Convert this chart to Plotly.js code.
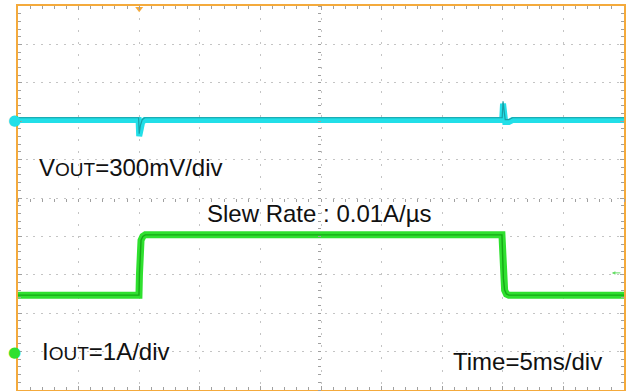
<!DOCTYPE html>
<html><head><meta charset="utf-8">
<script src="https://cdn.plot.ly/plotly-3.0.1.min.js"></script>
<style>html,body{margin:0;padding:0;background:#fff}#chart{width:634px;height:391px}</style>
</head><body><div id="chart"></div>
<script>
// ---- data (read from the scope capture) ----
const timeRange = [0, 50];                 // ms, 5 ms/div x 10 div
const time_vout = [0, 9.95, 10.0, 10.1, 10.25, 10.45, 39.95, 40.02, 40.1, 40.2, 40.5, 40.8, 50];
const vout_mV   = [0, 0, -125, -60, -15, 0, 0, 128, 60, -15, -15, 0, 0];   // deviation, mV
const time_iout = [0, 9.98, 10.02, 10.08, 10.15, 10.3, 10.5, 39.93, 39.98, 40.05, 40.15, 40.3, 40.5, 50];
const iout_A    = [1.47, 1.47, 2.0, 2.6, 2.9, 3.0, 3.04, 3.04, 2.5, 1.9, 1.6, 1.5, 1.47, 1.47];
const triggerTime = [10];
const triggerLevel_A = 2.05;
const labels = {
  vout: 'V<span style="font-size:19px">OUT</span>=300mV/div',
  iout: 'I<span style="font-size:19px">OUT</span>=1A/div',
  slew: 'Slew Rate : 0.01A/µs',
  time: 'Time=5ms/div'
};

// ---- channel scaling (div units on screen) ----
const VOUT_SCALE = 300, VOUT_OFFSET = 2.03;   // mV/div, div
const IOUT_SCALE = 1,   IOUT_OFFSET = -4;     // A/div, div
const voutDiv = vout_mV.map(v => VOUT_OFFSET + v / VOUT_SCALE);
const ioutDiv = iout_A.map(i => IOUT_OFFSET + i / IOUT_SCALE);

const ORANGE = '#f4aa3c', GRID = '#c4c4c4', TICK = '#a0a0a0';
const CYAN = '#22dfe8', GREEN = '#2fe02f';
const FONT = '"Liberation Sans", Arial, sans-serif';

const traces = [
  {x: time_vout, y: voutDiv, mode: 'lines', line: {color: CYAN, width: 6}, hoverinfo: 'skip'},
  {x: time_vout, y: voutDiv.map(v => v + 0.06), mode: 'lines', line: {color: '#1a9ea4', width: 1.2}, hoverinfo: 'skip'},
  {x: time_iout, y: ioutDiv, mode: 'lines', line: {color: GREEN, width: 7}, hoverinfo: 'skip'},
  {x: time_iout, y: ioutDiv, mode: 'lines', line: {color: '#16a816', width: 1.4}, hoverinfo: 'skip'},
  // trigger position marker
  {x: triggerTime, y: [4.93], mode: 'markers', marker: {symbol: 'triangle-down', size: 7, color: ORANGE},
   cliponaxis: false, hoverinfo: 'skip'},
  // centre graticule tick rows
  {x: [0], y: [0], xaxis: 'x2', yaxis: 'y2', mode: 'markers', marker: {opacity: 0}, hoverinfo: 'skip'}
];

const borderAxis = {
  showline: true, linecolor: ORANGE, linewidth: 2, mirror: 'allticks',
  ticks: 'inside', ticklen: 4, tickcolor: TICK, tickwidth: 1,
  showticklabels: false, zeroline: false, showgrid: true, gridcolor: GRID, gridwidth: 1
};

const chMarker = (y, color) => ({
  xref: 'paper', yref: 'y', x: -0.0066, y: y, xanchor: 'center', yanchor: 'middle',
  text: '●', showarrow: false, font: {size: 15, color: color, family: '"DejaVu Sans", sans-serif'}
});

const layout = {
  width: 634, height: 391,
  margin: {l: 18, r: 10, t: 6, b: 1, pad: 0},
  paper_bgcolor: '#fff', plot_bgcolor: '#fff',
  showlegend: false,
  xaxis: Object.assign({}, borderAxis, {range: timeRange, dtick: 5, tick0: 0, griddash: '2px,10.12px',
    minor: {dtick: 1, ticks: 'inside', ticklen: 3, tickcolor: TICK, showgrid: false}}),
  yaxis: Object.assign({}, borderAxis, {range: [-5, 5], dtick: 1, tick0: 0, griddash: '2px,5.68px',
    minor: {dtick: 0.2, ticks: 'inside', ticklen: 3, tickcolor: TICK, showgrid: false}}),
  xaxis2: {overlaying: 'x', anchor: 'free', position: 0.5, range: timeRange, showline: false,
    showgrid: false, zeroline: false, showticklabels: false, ticks: 'outside', ticklen: 3, dtick: 1,
    tickcolor: TICK, side: 'bottom'},
  yaxis2: {overlaying: 'y', anchor: 'free', position: 0.5, range: [-5, 5], showline: false,
    showgrid: false, zeroline: false, showticklabels: false, ticks: 'outside', ticklen: 3, dtick: 0.2,
    tickcolor: TICK, side: 'left'},
  font: {family: FONT, color: '#111'},
  annotations: [
    {xref: 'paper', yref: 'paper', x: 0.0314, y: 0.5794, xanchor: 'left', yanchor: 'middle',
     text: labels.vout, showarrow: false, font: {size: 24, family: FONT, color: '#111'}},
    {xref: 'paper', yref: 'paper', x: 0.4975, y: 0.4596, xanchor: 'center', yanchor: 'middle',
     text: labels.slew, showarrow: false, font: {size: 24, family: FONT, color: '#111'}},
    {xref: 'paper', yref: 'paper', x: 0.0363, y: 0.1003, xanchor: 'left', yanchor: 'middle',
     text: labels.iout, showarrow: false, font: {size: 24, family: FONT, color: '#111'}},
    {xref: 'paper', yref: 'paper', x: 0.967, y: 0.0742, xanchor: 'right', yanchor: 'middle',
     text: labels.time, showarrow: false, font: {size: 24, family: FONT, color: '#111'}},
    {x: 49.0, y: IOUT_OFFSET + triggerLevel_A / IOUT_SCALE, ax: 10, ay: 0, text: '', showarrow: true,
     arrowhead: 2, arrowsize: 0.7, arrowwidth: 1, arrowcolor: '#66dd66'},
    chMarker(VOUT_OFFSET, CYAN),
    chMarker(IOUT_OFFSET, GREEN)
  ]
};

Plotly.newPlot('chart', traces, layout, {displayModeBar: false, staticPlot: true});
</script></body></html>
